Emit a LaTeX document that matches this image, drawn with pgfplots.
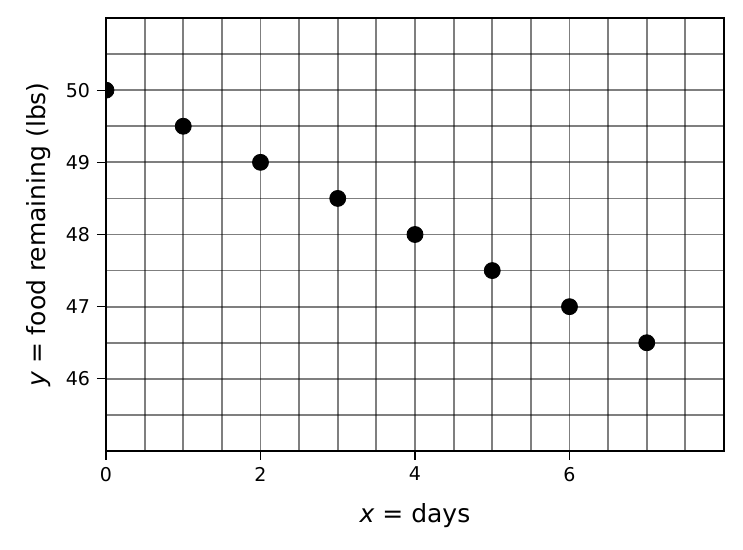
\documentclass[border=0pt]{standalone}
\usepackage{pgfplots}
\pgfplotsset{compat=1.18}
\usepackage{fontspec}
\setmainfont{DejaVu Sans}
\newfontfamily\obl{DejaVu Sans Oblique}
\begin{document}
\begin{tikzpicture}
% 1 px of the reference = 0.5pt
\useasboundingbox (-53pt,-49.5pt) rectangle (318.5pt,225.5pt);
\begin{axis}[
    at={(0,0)}, anchor=south west,
    scale only axis,
    width=309pt, height=216.5pt,
    xmin=0, xmax=8, ymin=45, ymax=51,
    xtick={0,2,4,6}, ytick={46,47,48,49,50},
    minor xtick={0.5,1,1.5,2,2.5,3,3.5,4,4.5,5,5.5,6,6.5,7,7.5},
    minor ytick={45.5,46,46.5,47,47.5,48,48.5,49,49.5,50,50.5},
    xmajorgrids=false, ymajorgrids=false,
    xminorgrids=true, yminorgrids=true,
    minor grid style={draw=black, draw opacity=0.5, line width=0.9pt},
    tick align=outside,
    major tick length=4.5pt, minor tick length=0pt,
    tick style={black, line width=0.6pt},
    axis line style={line width=0.7pt},
    xtick pos=bottom, ytick pos=left,
    /pgf/number format/assume math mode=true,
    ticklabel style={font=\fontsize{9.5}{11}\selectfont},
    label style={font=\fontsize{12.5}{14}\selectfont},
    xlabel={{\obl x} = days},
    ylabel={{\obl y} = food remaining (lbs)},
    xlabel style={yshift=-4pt},
    ylabel style={yshift=0.5pt},
    clip marker paths=true,
]
\addplot[only marks, mark=*, mark size=4pt, black] coordinates {
    (0,50) (1,49.5) (2,49) (3,48.5) (4,48) (5,47.5) (6,47) (7,46.5)
};
\end{axis}
\end{tikzpicture}
\end{document}
